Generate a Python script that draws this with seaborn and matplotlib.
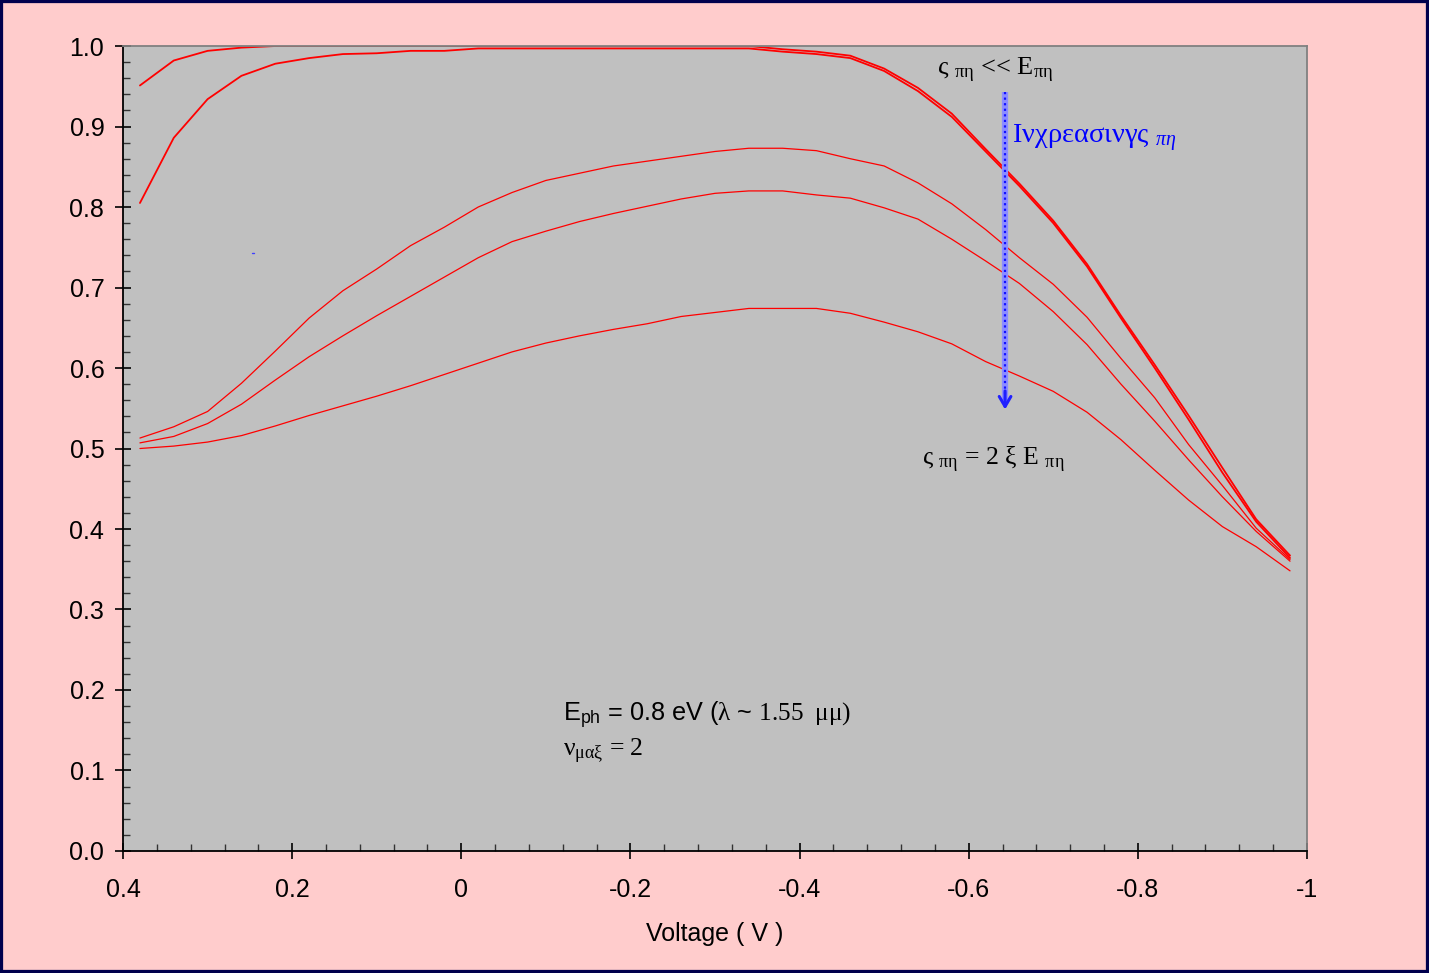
import matplotlib
matplotlib.use("Agg")
import matplotlib.pyplot as plt
import numpy as np
import pandas as pd
import seaborn as sns
from matplotlib.ticker import MultipleLocator, FixedLocator, FixedFormatter
from matplotlib.patches import Rectangle

# Bias voltage (V) at which the efficiency curves are sampled
voltage = [0.38, 0.34, 0.30, 0.26, 0.22, 0.18, 0.14, 0.10, 0.06, 0.02,
           -0.02, -0.06, -0.10, -0.14, -0.18, -0.22, -0.26, -0.30, -0.34, -0.38,
           -0.42, -0.46, -0.50, -0.54, -0.58, -0.62, -0.66, -0.70, -0.74, -0.78,
           -0.82, -0.86, -0.90, -0.94, -0.98]

# One curve per threshold energy, from lowest to highest
eff_a = [0.951, 0.982, 0.994, 0.998, 1.000, 1.000, 1.000, 1.000, 1.000, 1.000,
         1.000, 1.000, 1.000, 1.000, 1.000, 1.000, 1.000, 1.000, 1.000, 0.996,
         0.993, 0.988, 0.972, 0.948, 0.916, 0.872, 0.829, 0.783, 0.729, 0.665,
         0.604, 0.541, 0.476, 0.412, 0.367]
eff_b = [0.805, 0.886, 0.934, 0.963, 0.978, 0.985, 0.990, 0.991, 0.994, 0.994,
         0.997, 0.997, 0.997, 0.997, 0.997, 0.997, 0.997, 0.997, 0.997, 0.993,
         0.990, 0.985, 0.969, 0.944, 0.912, 0.869, 0.826, 0.780, 0.726, 0.662,
         0.600, 0.536, 0.470, 0.409, 0.364]
eff_c = [0.513, 0.527, 0.546, 0.581, 0.621, 0.662, 0.696, 0.723, 0.752, 0.775,
         0.800, 0.818, 0.833, 0.842, 0.851, 0.857, 0.863, 0.869, 0.873, 0.873,
         0.870, 0.860, 0.851, 0.830, 0.804, 0.772, 0.737, 0.704, 0.663, 0.612,
         0.563, 0.505, 0.454, 0.401, 0.362]
eff_d = [0.507, 0.515, 0.531, 0.555, 0.585, 0.614, 0.640, 0.665, 0.689, 0.713,
         0.737, 0.757, 0.770, 0.782, 0.792, 0.801, 0.810, 0.817, 0.820, 0.820,
         0.815, 0.811, 0.799, 0.785, 0.760, 0.733, 0.705, 0.670, 0.629, 0.580,
         0.534, 0.486, 0.440, 0.397, 0.360]
eff_e = [0.500, 0.503, 0.508, 0.516, 0.528, 0.541, 0.553, 0.565, 0.578, 0.592,
         0.606, 0.620, 0.631, 0.640, 0.648, 0.655, 0.664, 0.669, 0.674, 0.674,
         0.674, 0.668, 0.657, 0.645, 0.630, 0.608, 0.590, 0.571, 0.545, 0.511,
         0.473, 0.436, 0.403, 0.378, 0.348]

x_ticks = [0.4, 0.2, 0.0, -0.2, -0.4, -0.6, -0.8, -1.0]
x_tick_labels = ["0.4", "0.2", "0", "-0.2", "-0.4", "-0.6", "-0.8", "-1"]
y_ticks = [0.0, 0.1, 0.2, 0.3, 0.4, 0.5, 0.6, 0.7, 0.8, 0.9, 1.0]
y_tick_labels = ["0.0", "0.1", "0.2", "0.3", "0.4", "0.5", "0.6", "0.7", "0.8", "0.9", "1.0"]

series = {"a": eff_a, "b": eff_b, "c": eff_c, "d": eff_d, "e": eff_e}
df = pd.concat(
    [pd.DataFrame({"V": voltage, "eff": vals, "curve": name}) for name, vals in series.items()],
    ignore_index=True,
)

sns.set_theme(style="ticks")
plt.rcParams["font.family"] = ["Liberation Sans", "DejaVu Sans"]
plt.rcParams["axes.unicode_minus"] = False
plt.rcParams["mathtext.fontset"] = "custom"
plt.rcParams["mathtext.rm"] = "Liberation Serif"
plt.rcParams["mathtext.it"] = "Liberation Serif:italic"
plt.rcParams["mathtext.sf"] = "Liberation Sans"

fig = plt.figure(figsize=(14.29, 9.73), dpi=100, facecolor="#FFCCCC")
ax = fig.add_axes([0.0861, 0.1254, 0.8285, 0.8273])
ax.set_facecolor("#C0C0C0")

sns.lineplot(data=df, x="V", y="eff", units="curve", estimator=None,
             color="#FF0000", linewidth=0.9, ax=ax, legend=False)
for ln in ax.lines[:2]:
    ln.set_linewidth(1.3)

ax.set_xlim(0.4, -1.0)
ax.set_ylim(0.0, 1.0)
ax.xaxis.set_major_locator(FixedLocator(x_ticks))
ax.xaxis.set_major_formatter(FixedFormatter(x_tick_labels))
ax.yaxis.set_major_locator(FixedLocator(y_ticks))
ax.yaxis.set_major_formatter(FixedFormatter(y_tick_labels))
ax.xaxis.set_minor_locator(MultipleLocator(0.04))
ax.yaxis.set_minor_locator(MultipleLocator(0.02))

ax.tick_params(which="major", direction="inout", length=11, width=1.2,
               color="black", labelsize=18, labelcolor="black")
ax.tick_params(axis="x", which="major", pad=14)
ax.tick_params(axis="y", which="major", pad=8)
ax.tick_params(which="minor", direction="in", length=5, width=1.0, color="#333333")

for side in ("left", "bottom"):
    ax.spines[side].set_color("black")
    ax.spines[side].set_linewidth(1.3)
for side in ("top", "right"):
    ax.spines[side].set_color("#808080")
    ax.spines[side].set_linewidth(1.3)

ax.set_xlabel("Voltage ( V )", fontsize=18, color="black", labelpad=14)
ax.set_ylabel("")

# Arrow showing the direction of increasing threshold
arrow_x = -0.643
ax.plot([arrow_x, arrow_x], [0.943, 0.555], color="#8C8CFF", lw=4.5, solid_capstyle="butt", zorder=4)
ax.plot([arrow_x, arrow_x], [0.943, 0.555], color="#1010FF", lw=1.6,
        linestyle=(0, (1, 1.5)), zorder=5)
ax.annotate("", xy=(arrow_x, 0.545), xytext=(arrow_x, 0.575),
            arrowprops=dict(arrowstyle="->,head_length=0.6,head_width=0.35",
                            color="#2020FF", lw=2.2), zorder=6)

serif = "Liberation Serif"
ax.text(-0.631, 0.970, r"ς $_{\mathregular{πη}}$ << E$_{\mathregular{πη}}$",
        family=serif, fontsize=19, color="black", ha="center", va="center")
ax.text(-0.651, 0.886, r"Ινχρεασινγς $_{\mathit{πη}}$",
        family=serif, fontsize=20.5, color="#0000FF", ha="left", va="center")
ax.text(-0.629, 0.486, r"ς $_{\mathregular{πη}}$ = 2 ξ E $_{\mathregular{πη}}$",
        family=serif, fontsize=18.5, color="black", ha="center", va="center")
ax.text(-0.120, 0.168, r"E$_{\mathregular{ph}}$ = 0.8 eV ($\mathrm{λ}$ ~ $\mathrm{1.55\ \ μμ)}$",
        family="Liberation Sans", fontsize=18.2, color="black", ha="left", va="center")
ax.text(-0.120, 0.124, r"ν$_{\mathregular{μαξ}}$ = 2",
        family=serif, fontsize=18.5, color="black", ha="left", va="center")

# small stray mark inside the plot area
ax.plot([0.248, 0.245], [0.743, 0.743], color="#4040FF", lw=1.0)

fig.patches.append(Rectangle((0, 0), 1, 1, transform=fig.transFigure, fill=False,
                             edgecolor="#00004D", linewidth=4.5, zorder=10))

fig.savefig("out.png", dpi=100, facecolor=fig.get_facecolor())
